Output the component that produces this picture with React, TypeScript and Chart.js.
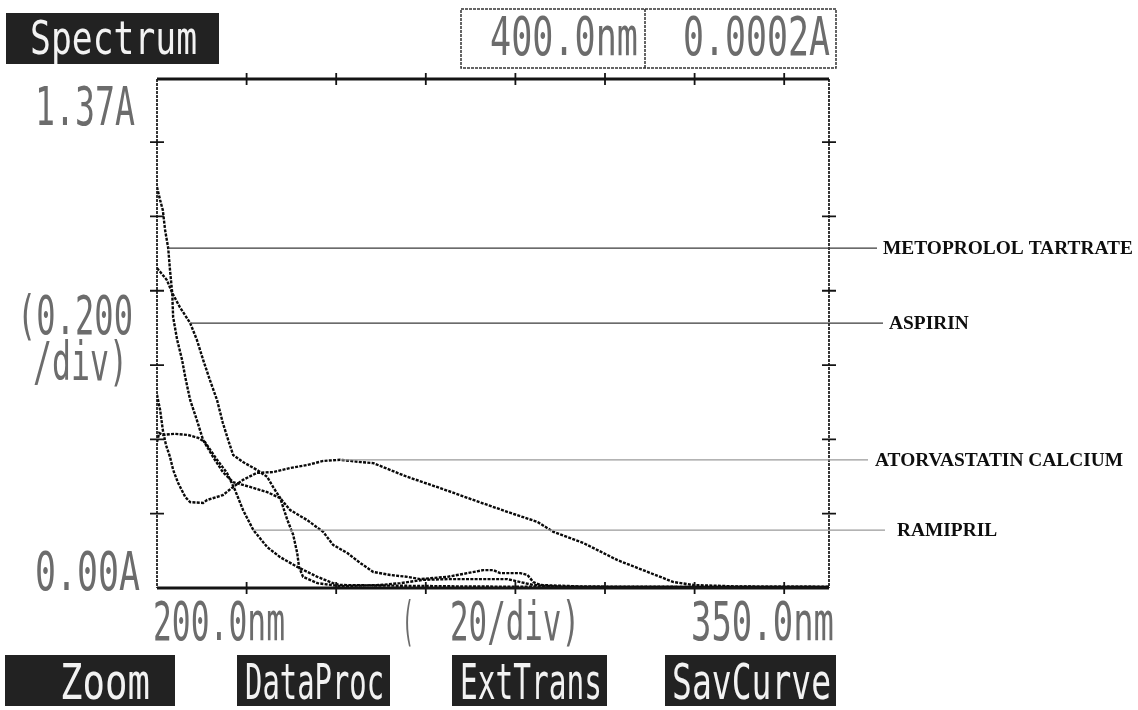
import React, { useEffect, useRef } from "react";
import { Chart, registerables } from "chart.js";

Chart.register(...registerables);

// Wavelength (nm) / absorbance (A) pairs for each recorded spectrum
const metoprololNm = [200.0, 200.7, 201.3, 201.8, 202.5, 202.9, 203.4, 203.6, 204.5, 205.6, 206.3, 207.4, 208.9, 210.3, 212.5, 214.7, 217.0, 220.8, 224.6, 227.5, 229.7, 233.5, 237.1, 239.3, 242.5, 245.4, 248.3, 252.1, 255.9, 258.8, 264.8, 269.3, 272.8, 275.1, 276.6, 281.1, 282.7, 284.0, 285.6, 295.0, 320.0, 350.0];
const metoprololAbs = [1.079, 1.044, 1.017, 0.964, 0.915, 0.856, 0.794, 0.729, 0.668, 0.614, 0.568, 0.506, 0.452, 0.398, 0.353, 0.312, 0.285, 0.272, 0.258, 0.242, 0.210, 0.183, 0.151, 0.116, 0.094, 0.067, 0.043, 0.035, 0.030, 0.024, 0.030, 0.040, 0.048, 0.048, 0.040, 0.040, 0.035, 0.016, 0.008, 0.004, 0.003, 0.003];

const aspirinNm = [200.0, 200.7, 202.2, 203.4, 205.1, 207.4, 208.9, 210.3, 211.8, 213.4, 214.7, 215.9, 217.0, 219.2, 222.3, 224.6, 225.9, 227.5, 229.1, 230.4, 231.3, 231.7, 232.6, 235.8, 240.9, 249.8, 254.3, 259.4, 265.5, 270.6, 278.2, 281.1, 284.0, 290.1, 320.0, 350.0];
const aspirinAbs = [0.861, 0.851, 0.829, 0.794, 0.756, 0.713, 0.668, 0.614, 0.560, 0.506, 0.444, 0.398, 0.358, 0.339, 0.318, 0.299, 0.272, 0.242, 0.183, 0.143, 0.094, 0.057, 0.030, 0.013, 0.005, 0.008, 0.013, 0.022, 0.024, 0.024, 0.024, 0.016, 0.008, 0.003, 0.003, 0.003];

const atorvastatinNm = [200.0, 200.7, 201.3, 202.0, 202.9, 203.6, 204.7, 206.3, 207.4, 210.3, 211.2, 214.7, 217.0, 219.2, 222.3, 225.9, 229.7, 233.5, 237.1, 240.9, 245.4, 248.3, 255.9, 263.2, 270.6, 278.2, 284.9, 288.5, 295.2, 302.8, 310.2, 315.3, 319.8, 330.0, 350.0];
const atorvastatinAbs = [0.520, 0.479, 0.425, 0.385, 0.353, 0.318, 0.283, 0.245, 0.231, 0.229, 0.237, 0.250, 0.272, 0.291, 0.310, 0.312, 0.323, 0.331, 0.342, 0.345, 0.339, 0.336, 0.299, 0.269, 0.237, 0.205, 0.178, 0.151, 0.121, 0.075, 0.040, 0.016, 0.008, 0.004, 0.003];

const ramiprilNm = [200.0, 200.5, 201.3, 204.0, 206.9, 209.2, 210.7, 213.4, 215.6, 217.4, 219.2, 221.5, 224.6, 227.5, 231.3, 235.8, 239.3, 240.9, 255.0, 270.0, 300.0, 350.0];
const ramiprilAbs = [0.393, 0.417, 0.412, 0.415, 0.412, 0.404, 0.393, 0.345, 0.310, 0.264, 0.210, 0.156, 0.110, 0.083, 0.057, 0.030, 0.013, 0.008, 0.006, 0.004, 0.003, 0.003];

const seriesNames = ["METOPROLOL TARTRATE", "ASPIRIN", "ATORVASTATIN CALCIUM", "RAMIPRIL"];
const seriesNm = [metoprololNm, aspirinNm, atorvastatinNm, ramiprilNm];
const seriesAbs = [metoprololAbs, aspirinAbs, atorvastatinAbs, ramiprilAbs];
// point on each curve where its name tag is attached
const tagPointIndex = [4, 5, 19, 11];

// scan window and division marks
const nmStart = 200;
const nmEnd = 350;
const absTop = 1.37;
const nmDivisions = [220, 240, 260, 280, 300, 320, 340];
const absDivisions = [0.2, 0.4, 0.6, 0.8, 1.0, 1.2];

const softKeys = ["Zoom", "DataProc", "ExtTrans", "SavCurve"];
const cursorReadout = ["400.0nm", "0.0002A"];

// page layout (pixels)
const CANVAS_W = 1138;
const CANVAS_H = 710;
const PLOT = { left: 157, top: 79, right: 829, bottom: 588 };
const tagTextX = [883, 889, 875, 897];
const tagLineEnd = [877, 883, 868, 885];
const tagLineColor = ["#3a3a3a", "#3a3a3a", "#9a9a9a", "#9a9a9a"];
const keyBoxes = [
  [5, 175],
  [237, 390],
  [452, 607],
  [665, 836],
];
const keyText = [
  [60, 150],
  [245, 384],
  [460, 602],
  [672, 831],
];

const MONO = '"DejaVu Sans Mono", "Liberation Mono", monospace';

function fitText(
  ctx: CanvasRenderingContext2D,
  text: string,
  left: number,
  right: number,
  baseline: number,
  size: number,
  color: string,
  font: string = MONO,
  weight: string = "normal"
) {
  ctx.save();
  ctx.font = `${weight} ${size}px ${font}`;
  const w = ctx.measureText(text).width;
  ctx.translate(left, baseline);
  ctx.scale((right - left) / w, 1);
  ctx.fillStyle = color;
  ctx.textAlign = "left";
  ctx.textBaseline = "alphabetic";
  ctx.fillText(text, 0, 0);
  ctx.restore();
}

const printoutPlugin = {
  id: "printout",
  afterDraw(chart: any) {
    const ctx: CanvasRenderingContext2D = chart.ctx;
    const { left, top, right, bottom } = chart.chartArea;
    const xs = chart.scales.x;
    const ys = chart.scales.y;
    const ink = "#141414";
    const gray = "#6c6c6c";

    // frame
    ctx.save();
    ctx.strokeStyle = ink;
    ctx.lineWidth = 2.8;
    ctx.beginPath();
    ctx.moveTo(left, top);
    ctx.lineTo(right, top);
    ctx.moveTo(left, bottom);
    ctx.lineTo(right, bottom);
    ctx.stroke();
    ctx.lineWidth = 1.7;
    ctx.setLineDash([3, 1]);
    ctx.beginPath();
    ctx.moveTo(left, top);
    ctx.lineTo(left, bottom);
    ctx.moveTo(right, top);
    ctx.lineTo(right, bottom);
    ctx.stroke();
    ctx.setLineDash([]);

    // division crosses on all four sides
    ctx.lineWidth = 1.8;
    ctx.beginPath();
    for (const nm of nmDivisions) {
      const px = xs.getPixelForValue(nm);
      ctx.moveTo(px, top - 6);
      ctx.lineTo(px, top + 6);
      ctx.moveTo(px, bottom - 6);
      ctx.lineTo(px, bottom + 6);
    }
    for (const a of absDivisions) {
      const py = ys.getPixelForValue(a);
      ctx.moveTo(left - 7, py);
      ctx.lineTo(left + 7, py);
      ctx.moveTo(right - 7, py);
      ctx.lineTo(right + 7, py);
    }
    ctx.stroke();
    ctx.restore();

    // name tags with leader lines
    seriesNames.forEach((name, i) => {
      const pt = chart.getDatasetMeta(i).data[tagPointIndex[i]];
      ctx.save();
      ctx.strokeStyle = tagLineColor[i];
      ctx.lineWidth = 1.3;
      ctx.beginPath();
      ctx.moveTo(pt.x, pt.y);
      ctx.lineTo(tagLineEnd[i], pt.y);
      ctx.stroke();
      ctx.font = 'bold 19.4px "Liberation Serif", "DejaVu Serif", serif';
      ctx.fillStyle = "#0e0e0e";
      ctx.textAlign = "left";
      ctx.textBaseline = "middle";
      ctx.fillText(name, tagTextX[i], pt.y + 1);
      ctx.restore();
    });

    // axis captions
    const yTopPx = ys.getPixelForValue(absTop);
    const yZeroPx = ys.getPixelForValue(0);
    const midY = (yTopPx + yZeroPx) / 2;
    fitText(ctx, "1.37A", 35, 135, yTopPx + 46, 54, gray);
    fitText(ctx, "(0.200", 17, 133, midY, 54, gray);
    fitText(ctx, "/div)", 33, 128, midY + 46, 54, gray);
    fitText(ctx, "0.00A", 35, 140, yZeroPx + 2, 54, gray);
    const xStartPx = xs.getPixelForValue(nmStart);
    const xEndPx = xs.getPixelForValue(nmEnd);
    fitText(ctx, "200.0nm", xStartPx - 4, xStartPx + 128, bottom + 52, 54, gray);
    fitText(ctx, "(", 402, 414, bottom + 52, 54, gray);
    fitText(ctx, "20/div)", 450, 580, bottom + 52, 54, gray);
    fitText(ctx, "350.0nm", xEndPx - 138, xEndPx + 5, bottom + 52, 54, gray);

    // mode banner
    ctx.fillStyle = "#222";
    ctx.fillRect(6, 13, 213, 51);
    fitText(ctx, "Spectrum", 30, 197, 54, 46, "#f2f2f2");

    // cursor readout box
    ctx.save();
    ctx.strokeStyle = "#333";
    ctx.lineWidth = 1.5;
    ctx.setLineDash([3, 1]);
    ctx.strokeRect(461, 9, 375, 59);
    ctx.beginPath();
    ctx.moveTo(645, 9);
    ctx.lineTo(645, 68);
    ctx.stroke();
    ctx.restore();
    fitText(ctx, cursorReadout[0], 490, 638, 55, 54, gray);
    fitText(ctx, cursorReadout[1], 683, 830, 55, 54, gray);

    // soft keys
    softKeys.forEach((k, i) => {
      const [x0, x1] = keyBoxes[i];
      ctx.fillStyle = "#222";
      ctx.fillRect(x0, 655, x1 - x0, 51);
      fitText(ctx, k, keyText[i][0], keyText[i][1], 699, 50, "#f2f2f2");
    });
  },
};

export default function App() {
  const canvasRef = useRef<HTMLCanvasElement | null>(null);

  useEffect(() => {
    const canvas = canvasRef.current;
    if (!canvas) return;
    const datasets = seriesNames.map((name, i) => ({
      label: name,
      data: seriesNm[i].map((nm, j) => ({ x: nm, y: seriesAbs[i][j] })),
      borderColor: "#0a0a0a",
      borderWidth: 2.4,
      borderDash: [3, 1.3],
      pointRadius: 0,
      tension: 0,
      fill: false,
    }));
    const chart = new Chart(canvas, {
      type: "line",
      data: { datasets },
      options: {
        responsive: false,
        animation: false,
        devicePixelRatio: 1,
        layout: {
          padding: {
            left: PLOT.left,
            top: PLOT.top,
            right: CANVAS_W - PLOT.right,
            bottom: CANVAS_H - PLOT.bottom,
          },
        },
        plugins: {
          legend: { display: false },
          tooltip: { enabled: false },
        },
        scales: {
          x: { type: "linear", min: nmStart, max: nmEnd, display: false },
          y: { type: "linear", min: 0, max: absTop, display: false },
        },
      },
      plugins: [printoutPlugin],
    });
    return () => chart.destroy();
  }, []);

  return (
    <div style={{ position: "absolute", left: 0, top: 0, width: CANVAS_W, height: CANVAS_H, background: "#fff" }}>
      <canvas ref={canvasRef} width={CANVAS_W} height={CANVAS_H} style={{ display: "block" }} />
    </div>
  );
}
